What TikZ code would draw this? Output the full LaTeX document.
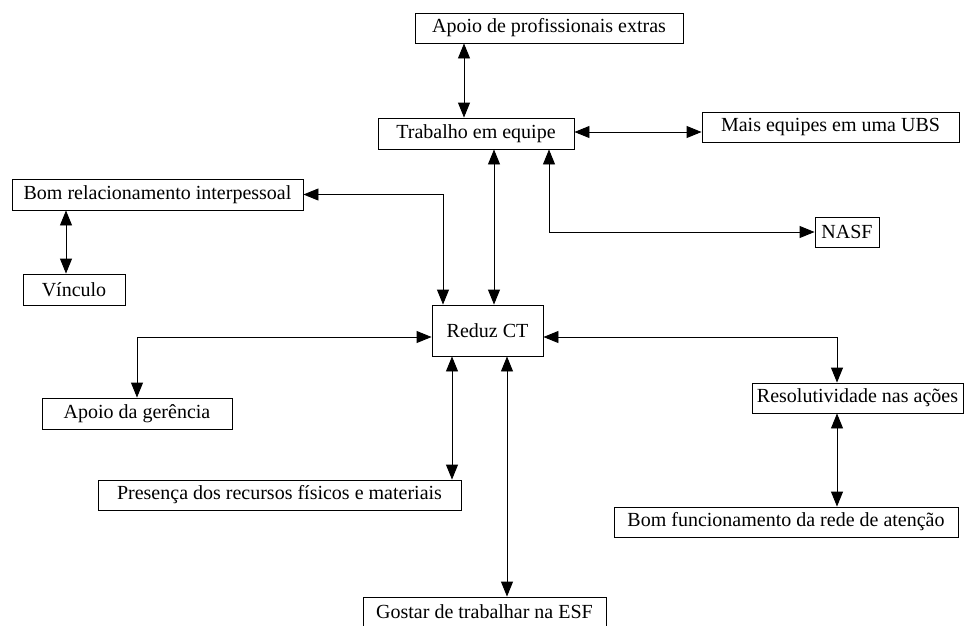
\documentclass[tikz,border=0pt]{standalone}
\usepackage{fontspec}
\setmainfont{Liberation Serif}
\usetikzlibrary{arrows.meta}
\tikzset{
  bx/.style={draw, line width=0.9pt, rectangle, inner sep=0pt, anchor=center,
    font=\fontsize{20pt}{22pt}\selectfont},
  dbl/.style={line width=0.9pt, {Triangle[length=15pt,width=12pt]}-{Triangle[length=15pt,width=12pt]}}
}
\begin{document}
\begin{tikzpicture}[x=1pt,y=-1pt]
\useasboundingbox (0,0) rectangle (965,625);
\node[bx, minimum width=268pt, minimum height=30pt] (A) at (549,28) {Apoio de profissionais extras};
\node[bx, minimum width=196pt, minimum height=31pt] (T) at (476,133.5) {Trabalho em equipe};
\node[bx, minimum width=257pt, minimum height=30pt] (M) at (830.5,127) {Mais equipes em uma UBS};
\node[bx, minimum width=64pt, minimum height=30pt] (N) at (847,232) {NASF};
\node[bx, minimum width=291pt, minimum height=31pt] (B) at (157.5,194.5) {Bom relacionamento interpessoal};
\node[bx, minimum width=102pt, minimum height=31pt] (V) at (74,289.5) {Vínculo};
\node[bx, minimum width=111pt, minimum height=51pt] (R) at (487.5,330.5) {Reduz CT};
\node[bx, minimum width=190pt, minimum height=31pt] (G) at (137,413.5) {Apoio da gerência};
\node[bx, minimum width=363pt, minimum height=30pt] (P) at (279.5,495) {Presença dos recursos físicos e materiais};
\node[bx, minimum width=211pt, minimum height=30pt] (S) at (857.5,398) {Resolutividade nas ações};
\node[bx, minimum width=344pt, minimum height=30pt] (F) at (786,522) {Bom funcionamento da rede de atenção};
\node[bx, minimum width=243pt, minimum height=30pt] (E) at (484.5,612) {Gostar de trabalhar na ESF};

\draw[dbl] (464,0 |- A.south) -- (464,0 |- T.north);
\draw[dbl] (T.east |- 0,132) -- (M.west |- 0,132);
\draw[dbl] (549,0 |- T.south) |- (N.west);
\draw[dbl] (494,0 |- T.south) -- (494,0 |- R.north);
\draw[dbl] (B.east) -| (443,0 |- R.north);
\draw[dbl] (66,0 |- B.south) -- (66,0 |- V.north);
\draw[dbl] (R.west |- 0,337) -| (G.north);
\draw[dbl] (452,0 |- R.south) -- (452,0 |- P.north);
\draw[dbl] (507,0 |- R.south) -- (507,0 |- E.north);
\draw[dbl] (R.east |- 0,337) -| (837,0 |- S.north);
\draw[dbl] (837,0 |- S.south) -- (837,0 |- F.north);
\end{tikzpicture}
\end{document}
